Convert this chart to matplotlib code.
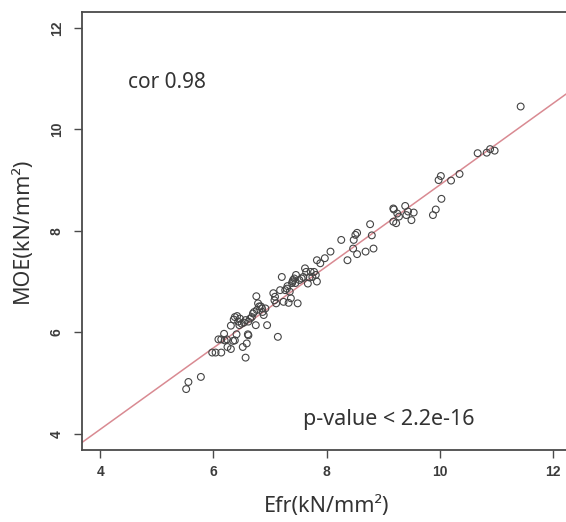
import matplotlib
matplotlib.use("Agg")
import matplotlib.pyplot as plt
import numpy as np

# Efr vs MOE measurements (kN/mm^2)
efr = [5.52, 5.56, 5.78, 5.98, 6.04, 6.14, 6.19, 6.14, 6.20, 6.25,
       6.31, 6.31, 6.38, 6.38, 6.41, 6.44, 6.47, 6.50, 6.52, 6.57,
       6.59, 6.61, 6.62, 6.65, 6.70, 6.75, 6.76, 6.77, 6.81, 6.86,
       6.89, 6.95, 7.06, 7.08, 7.11, 7.14, 7.21, 7.24, 7.27, 7.30,
       7.33, 7.37, 7.40, 7.43, 7.46, 7.49, 7.52, 7.59, 7.62, 7.67,
       7.72, 7.75, 7.81, 7.83, 7.83, 7.89, 7.97, 8.07, 8.26, 8.37,
       8.47, 8.48, 8.51, 8.54, 8.54, 8.69, 8.77, 8.80, 8.83, 9.18,
       9.18, 9.23, 9.25, 9.28, 9.39, 9.41, 9.44, 9.50, 9.54, 9.88,
       9.93, 9.98, 10.02, 10.03, 10.20, 10.35, 10.67, 10.83, 10.89, 10.97,
       11.43,
       6.09, 6.24, 6.35, 6.36, 6.42, 6.46, 6.54, 6.57, 6.62, 6.68,
       6.72, 6.79, 6.84, 6.87, 6.92, 7.09, 7.18, 7.31, 7.35, 7.39,
       7.41, 7.45, 7.56, 7.64, 7.70, 7.78, 9.19]
moe = [4.88, 5.02, 5.12, 5.60, 5.60, 5.60, 5.97, 5.86, 5.84, 5.71,
       5.67, 6.13, 5.84, 6.30, 5.96, 6.21, 6.27, 6.17, 5.71, 5.50,
       5.78, 5.96, 6.21, 6.27, 6.37, 6.14, 6.71, 6.44, 6.51, 6.47,
       6.34, 6.14, 6.77, 6.63, 6.57, 5.91, 7.09, 6.60, 6.83, 6.86,
       6.58, 6.67, 7.00, 7.06, 7.13, 6.57, 7.03, 7.09, 7.26, 6.96,
       7.19, 7.09, 7.13, 7.00, 7.42, 7.36, 7.46, 7.59, 7.82, 7.42,
       7.65, 7.82, 7.92, 7.96, 7.54, 7.59, 8.13, 7.91, 7.65, 8.44,
       8.18, 8.15, 8.34, 8.28, 8.49, 8.31, 8.38, 8.21, 8.36, 8.31,
       8.42, 9.00, 9.08, 8.63, 8.99, 9.12, 9.53, 9.54, 9.61, 9.58,
       10.45,
       5.86, 5.86, 5.83, 6.25, 6.32, 6.14, 6.19, 6.24, 5.94, 6.30,
       6.40, 6.57, 6.51, 6.40, 6.47, 6.70, 6.83, 6.91, 6.80, 6.97,
       7.03, 6.97, 7.06, 7.19, 7.08, 7.19, 8.42]

# fitted line: MOE = a + b * Efr
intercept = 0.873
slope = 0.803

ticks = [4, 6, 8, 10, 12]
cor_text = "cor 0.98"
p_text = "p-value < 2.2e-16"

txt_font = ["Noto Sans", "DejaVu Sans"]
frame_col = "#4a4a4a"
text_col = "#333333"

fig = plt.figure(figsize=(5.66, 5.22), dpi=100)
ax = fig.add_axes([0.1449, 0.138, 0.864, 0.8397])

ax.scatter(efr, moe, s=24, facecolors="none", edgecolors="#444444",
           linewidths=0.8, zorder=3)

xs = np.array([3.0, 13.0])
ax.plot(xs, intercept + slope * xs, color="#d98a92", lw=1.1, zorder=2)

ax.set_xlim(3.68, 12.32)
ax.set_ylim(3.68, 12.32)
ax.set_xticks(ticks)
ax.set_yticks(ticks)
ax.set_xticklabels([str(t) for t in ticks], fontfamily="Liberation Sans",
                   fontsize=10, color="#3c3c3c", fontweight="bold")
ax.set_yticklabels([str(t) for t in ticks], fontfamily="Liberation Sans",
                   fontsize=10, color="#3c3c3c", fontweight="bold",
                   rotation=90, va="center")
ax.tick_params(axis="x", length=6, width=1.0, color=frame_col, pad=5)
ax.tick_params(axis="y", length=6, width=1.0, color=frame_col, pad=7)

for side in ["left", "bottom", "top", "right"]:
    ax.spines[side].set_color(frame_col)
    ax.spines[side].set_linewidth(1.3)

ax.set_xlabel("Efr(kN/mm²)", family=txt_font, fontsize=15.5, color=text_col,
              labelpad=12)
ax.set_ylabel("MOE(kN/mm²)", family=txt_font, fontsize=15.5, color=text_col,
              labelpad=12)

ax.text(4.49, 10.92, cor_text, family=txt_font, fontsize=15, color=text_col,
        ha="left", va="center")
ax.text(7.59, 4.28, p_text, family=txt_font, fontsize=15.5, color=text_col,
        ha="left", va="center")

fig.savefig("out.png", dpi=100)
